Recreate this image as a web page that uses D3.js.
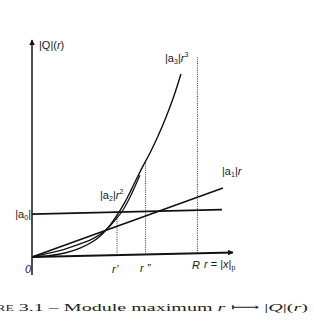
<!DOCTYPE html>
<html>
<head>
<meta charset="utf-8">
<script src="https://cdn.jsdelivr.net/npm/d3@7"></script>
<style>
  body { margin: 0; background: #fff; }
  svg { display: block; }
  .lbl { font-family: "Liberation Sans", Arial, sans-serif; font-size: 11px; fill: #1a1a1a; }
  .cap { font-family: "Liberation Serif", "DejaVu Serif", serif; font-size: 11px; fill: #222; }
</style>
</head>
<body>
<svg id="chart" width="314" height="334"></svg>
<script>
// values (r on 0..100, |Q| on 0..100)
var r2Curve = [[0, 0], [9, 1.7], [16.4, 3.3], [23.9, 5.5], [29.9, 7.6], [34.8, 10.3], [38.8, 13.5],
  [42.3, 17.1], [45.3, 20.7], [47.8, 24.8], [50.2, 29.4], [52.2, 33.5], [53.7, 36.6]];
var r3Curve = [[0, 0], [9, 0.5], [16.4, 1.5], [23.9, 3.6], [29.9, 6.3], [33.8, 8.9], [37.3, 12.1],
  [40.3, 15.7], [43.3, 19.8], [46.3, 24.4], [49.3, 29.8], [52.2, 35.3], [55.2, 40.7], [58.7, 46.7],
  [62.7, 54.4], [66.7, 63.1], [70.6, 72.7], [74.1, 82.8]];
var a1Line = [[0, 0], [95, 29.8]];
var a0Line = [[0, 19.8], [94.5, 19.8]];
var markR = [42.3, 56.5, 82.3];          // r', r'', R
var markTop = [19.8, 42.6, 90.4];        // where each dotted line stops

var svg = d3.select('#chart');

var defs = svg.append('defs');
defs.append('marker')
    .attr('id', 'arrow')
    .attr('viewBox', '0 0 10 10')
    .attr('refX', 9).attr('refY', 5)
    .attr('markerWidth', 6).attr('markerHeight', 6)
    .attr('markerUnits', 'userSpaceOnUse')
    .attr('orient', 'auto')
    .append('path')
    .attr('d', 'M0,0 L10,5 L0,10 z')
    .attr('fill', '#111');

var x = d3.scaleLinear().domain([0, 100]).range([0, 201]);
var y = d3.scaleLinear().domain([0, 100]).range([0, -217]);

// the scan is slightly tilted: horizontals rise to the right
var g = svg.append('g')
    .attr('transform', 'translate(32,257) skewY(-1.3)');

var line = d3.line()
    .x(function (d) { return x(d[0]); })
    .y(function (d) { return y(d[1]); });

// axes
g.append('line')
    .attr('x1', x(0)).attr('y1', y(-8.3))
    .attr('x2', x(0)).attr('y2', y(100))
    .attr('stroke', '#222').attr('stroke-width', 1.6)
    .attr('marker-end', 'url(#arrow)');
g.append('line')
    .attr('x1', x(0)).attr('y1', y(0))
    .attr('x2', x(100)).attr('y2', y(0))
    .attr('stroke', '#111').attr('stroke-width', 2)
    .attr('marker-end', 'url(#arrow)');

// dotted verticals
g.selectAll('.mark')
    .data(markR)
    .enter().append('line')
    .attr('class', 'mark')
    .attr('x1', function (d) { return x(d); })
    .attr('x2', function (d) { return x(d); })
    .attr('y1', y(0))
    .attr('y2', function (d, i) { return y(markTop[i]); })
    .attr('stroke', '#333').attr('stroke-width', 1)
    .attr('stroke-dasharray', '1,1.2');

// straight lines
g.append('path').attr('d', line(a0Line))
    .attr('fill', 'none').attr('stroke', '#111').attr('stroke-width', 1.7);
g.append('path').attr('d', line(a1Line))
    .attr('fill', 'none').attr('stroke', '#111').attr('stroke-width', 1.8);

// curves
var curve = d3.line()
    .x(function (d) { return x(d[0]); })
    .y(function (d) { return y(d[1]); })
    .curve(d3.curveMonotoneX);
g.append('path').attr('d', curve(r2Curve))
    .attr('fill', 'none').attr('stroke', '#111').attr('stroke-width', 1.3);
g.append('path').attr('d', curve(r3Curve))
    .attr('fill', 'none').attr('stroke', '#111').attr('stroke-width', 1.4);

// labels
function label(px, py, parts, anchor) {
    var t = svg.append('text').attr('class', 'lbl')
        .attr('x', px).attr('y', py)
        .attr('text-anchor', anchor || 'start');
    parts.forEach(function (p) {
        var s = t.append('tspan').text(p.t);
        if (p.i) s.attr('font-style', 'italic');
        if (p.sub) s.attr('font-size', '7px').attr('dy', 2);
        if (p.sup) s.attr('font-size', '7px').attr('dy', -5);
        if (p.back) s.attr('dy', p.back);
    });
    return t;
}

label(39, 49, [{ t: '|Q|(' }, { t: 'r', i: true }, { t: ')' }]);
label(165, 62, [{ t: '|a' }, { t: '3', sub: true }, { t: '|', back: -2 }, { t: 'r', i: true }, { t: '3', sup: true }]);
label(100, 199, [{ t: '|a' }, { t: '2', sub: true }, { t: '|', back: -2 }, { t: 'r', i: true }, { t: '2', sup: true }]);
label(222, 175, [{ t: '|a' }, { t: '1', sub: true }, { t: '|', back: -2 }, { t: 'r', i: true }]);
label(31, 218, [{ t: '|a' }, { t: '0', sub: true }, { t: '|', back: -2 }], 'end');
label(25, 273, [{ t: '0', i: true }]);
label(112, 273, [{ t: 'r\u2019', i: true }]);
label(140, 272, [{ t: 'r \u201d', i: true }]);
label(192, 269, [{ t: 'R', i: true }]);
label(204, 268, [{ t: 'r', i: true }, { t: ' = |' }, { t: 'x', i: true }, { t: '|' }, { t: 'p', sub: true }]);

// caption, wide and clipped on the left like the scan
var cap = svg.append('text').attr('class', 'cap')
    .attr('x', 0).attr('y', 0);
cap.append('tspan').text('Figure').style('font-variant', 'small-caps');
cap.append('tspan').text(' 3.1 \u2013 Module maximum ');
cap.append('tspan').text('r').attr('font-style', 'italic');
cap.append('tspan').text(' \u27FC |');
cap.append('tspan').text('Q').attr('font-style', 'italic');
cap.append('tspan').text('|(');
cap.append('tspan').text('r').attr('font-style', 'italic');
cap.append('tspan').text(')');

var node = cap.node();
var full = node.getComputedTextLength();
var head = node.getSubStringLength(0, 4);   // "Figu" sits off the left edge
var sx = (311 + 2) / (full - head);
cap.attr('transform', 'translate(' + (-2 - sx * head) + ',311) scale(' + sx + ',1)');
</script>
</body>
</html>
